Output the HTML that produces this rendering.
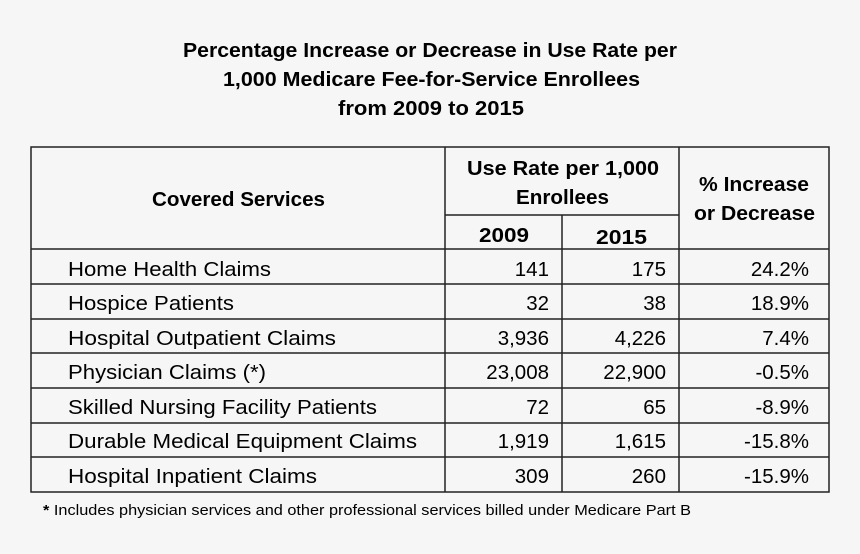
<!DOCTYPE html>
<html><head><style>
html,body{margin:0;padding:0;background:#f6f6f6;}
svg{display:block;font-family:"Liberation Sans",sans-serif;}
</style></head><body>
<svg width="860" height="554" viewBox="0 0 860 554">
<rect width="860" height="554" fill="#f6f6f6"/>
<g font-weight="bold" font-size="20" fill="#000">
<text x="183" y="57" textLength="494" lengthAdjust="spacingAndGlyphs">Percentage Increase or Decrease in Use Rate per</text>
<text x="223" y="86" textLength="417" lengthAdjust="spacingAndGlyphs">1,000 Medicare Fee-for-Service Enrollees</text>
<text x="338" y="115" textLength="186" lengthAdjust="spacingAndGlyphs">from 2009 to 2015</text>
</g>
<g stroke="#222" stroke-width="1.5" fill="none">
<rect x="31" y="147" width="798" height="345"/>
<line x1="445" y1="147" x2="445" y2="492"/>
<line x1="679" y1="147" x2="679" y2="492"/>
<line x1="562" y1="215" x2="562" y2="492"/>
<line x1="445" y1="215" x2="679" y2="215"/>
<line x1="31" y1="249" x2="829" y2="249"/>
<line x1="31" y1="284" x2="829" y2="284"/>
<line x1="31" y1="319" x2="829" y2="319"/>
<line x1="31" y1="353" x2="829" y2="353"/>
<line x1="31" y1="388" x2="829" y2="388"/>
<line x1="31" y1="423" x2="829" y2="423"/>
<line x1="31" y1="457" x2="829" y2="457"/>
</g>
<g font-weight="bold" font-size="20">
<text x="152" y="206" textLength="173" lengthAdjust="spacingAndGlyphs">Covered Services</text>
<text x="467" y="175" textLength="192" lengthAdjust="spacingAndGlyphs">Use Rate per 1,000</text>
<text x="516" y="204" textLength="93" lengthAdjust="spacingAndGlyphs">Enrollees</text>
<text x="479" y="242" textLength="50" lengthAdjust="spacingAndGlyphs">2009</text>
<text x="596" y="244" textLength="51" lengthAdjust="spacingAndGlyphs">2015</text>
<text x="699" y="191" textLength="110" lengthAdjust="spacingAndGlyphs">% Increase</text>
<text x="694" y="220" textLength="121" lengthAdjust="spacingAndGlyphs">or Decrease</text>
</g>
<g font-size="20.5">
<text x="68" y="276" textLength="203" lengthAdjust="spacingAndGlyphs">Home Health Claims</text>
<text x="68" y="310" textLength="166" lengthAdjust="spacingAndGlyphs">Hospice Patients</text>
<text x="68" y="345" textLength="268" lengthAdjust="spacingAndGlyphs">Hospital Outpatient Claims</text>
<text x="68" y="379" textLength="198" lengthAdjust="spacingAndGlyphs">Physician Claims (*)</text>
<text x="68" y="414" textLength="309" lengthAdjust="spacingAndGlyphs">Skilled Nursing Facility Patients</text>
<text x="68" y="448" textLength="349" lengthAdjust="spacingAndGlyphs">Durable Medical Equipment Claims</text>
<text x="68" y="483" textLength="249" lengthAdjust="spacingAndGlyphs">Hospital Inpatient Claims</text>
<g text-anchor="end">
<text x="549" y="276">141</text><text x="666" y="276">175</text><text x="809" y="276">24.2%</text>
<text x="549" y="310">32</text><text x="666" y="310">38</text><text x="809" y="310">18.9%</text>
<text x="549" y="345">3,936</text><text x="666" y="345">4,226</text><text x="809" y="345">7.4%</text>
<text x="549" y="379">23,008</text><text x="666" y="379">22,900</text><text x="809" y="379">-0.5%</text>
<text x="549" y="414">72</text><text x="666" y="414">65</text><text x="809" y="414">-8.9%</text>
<text x="549" y="448">1,919</text><text x="666" y="448">1,615</text><text x="809" y="448">-15.8%</text>
<text x="549" y="483">309</text><text x="666" y="483">260</text><text x="809" y="483">-15.9%</text>
</g>
</g>
<text x="43" y="515" font-size="14.5" textLength="648" lengthAdjust="spacingAndGlyphs"><tspan font-weight="bold">*</tspan> Includes physician services and other professional services billed under Medicare Part B</text>
</svg>
</body></html>
